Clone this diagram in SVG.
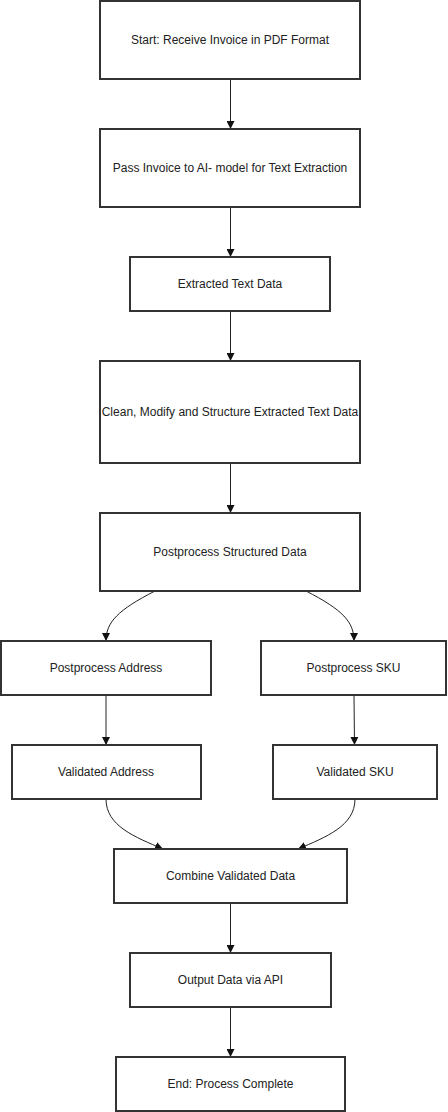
<svg xmlns="http://www.w3.org/2000/svg" width="448" height="1112" viewBox="0 0 448 1112">
<style>
.node rect{fill:#fff;stroke:#333;stroke-width:2}
.node text{font-family:"Liberation Sans",Arial,sans-serif;font-size:12px;fill:#222;text-anchor:middle;dominant-baseline:central}
.edge{fill:none;stroke:#222;stroke-width:1}
</style>
<defs>
<marker id="arrow" viewBox="0 0 10 10" refX="10" refY="5" markerWidth="8" markerHeight="8" markerUnits="userSpaceOnUse" orient="auto">
<path d="M0,0 L10,5 L0,10 Z" fill="#111"/>
</marker>
</defs>
<rect width="448" height="1112" fill="#fff"/>
<g id="connectors">
<path class="edge" d="M230.5,79 L230.5,129" marker-end="url(#arrow)"/>
<path class="edge" d="M230.5,207 L230.5,257" marker-end="url(#arrow)"/>
<path class="edge" d="M230.5,311 L230.5,361" marker-end="url(#arrow)"/>
<path class="edge" d="M230.5,463 L230.5,513" marker-end="url(#arrow)"/>
<path class="edge" d="M155,591 C118,610 106,622 106,641" marker-end="url(#arrow)"/>
<path class="edge" d="M306,591 C343,610 354,622 354,641" marker-end="url(#arrow)"/>
<path class="edge" d="M106,695 L106,745" marker-end="url(#arrow)"/>
<path class="edge" d="M354,695 L354.5,745" marker-end="url(#arrow)"/>
<path class="edge" d="M106,799 C106,826 135,837 163,849" marker-end="url(#arrow)"/>
<path class="edge" d="M355,799 C355,826 326,837 298,849" marker-end="url(#arrow)"/>
<path class="edge" d="M230.5,903 L230.5,953" marker-end="url(#arrow)"/>
<path class="edge" d="M230.5,1007 L230.5,1057" marker-end="url(#arrow)"/>
</g>
<g id="n1" class="node"><rect x="100" y="1" width="260" height="78"/><text x="230" y="40">Start: Receive Invoice in PDF Format</text></g>
<g id="n2" class="node"><rect x="100" y="129" width="260" height="78"/><text x="230" y="168">Pass Invoice to AI- model for Text Extraction</text></g>
<g id="n3" class="node"><rect x="130" y="257" width="200" height="54"/><text x="230" y="284">Extracted Text Data</text></g>
<g id="n4" class="node"><rect x="100" y="361" width="260" height="102"/><text x="230" y="412">Clean, Modify and Structure Extracted Text Data</text></g>
<g id="n5" class="node"><rect x="100" y="513" width="260" height="78"/><text x="230" y="552">Postprocess Structured Data</text></g>
<g id="n6" class="node"><rect x="1" y="641" width="210" height="54"/><text x="106" y="668">Postprocess Address</text></g>
<g id="n7" class="node"><rect x="261" y="641" width="185" height="54"/><text x="353.5" y="668">Postprocess SKU</text></g>
<g id="n8" class="node"><rect x="12" y="745" width="189" height="54"/><text x="106" y="772">Validated Address</text></g>
<g id="n9" class="node"><rect x="273" y="745" width="164" height="54"/><text x="355" y="772">Validated SKU</text></g>
<g id="n10" class="node"><rect x="114" y="849" width="233" height="54"/><text x="230.5" y="876">Combine Validated Data</text></g>
<g id="n11" class="node"><rect x="130" y="953" width="201" height="54"/><text x="230.5" y="980">Output Data via API</text></g>
<g id="n12" class="node"><rect x="116" y="1057" width="229" height="54"/><text x="230.5" y="1084">End: Process Complete</text></g>
</svg>
